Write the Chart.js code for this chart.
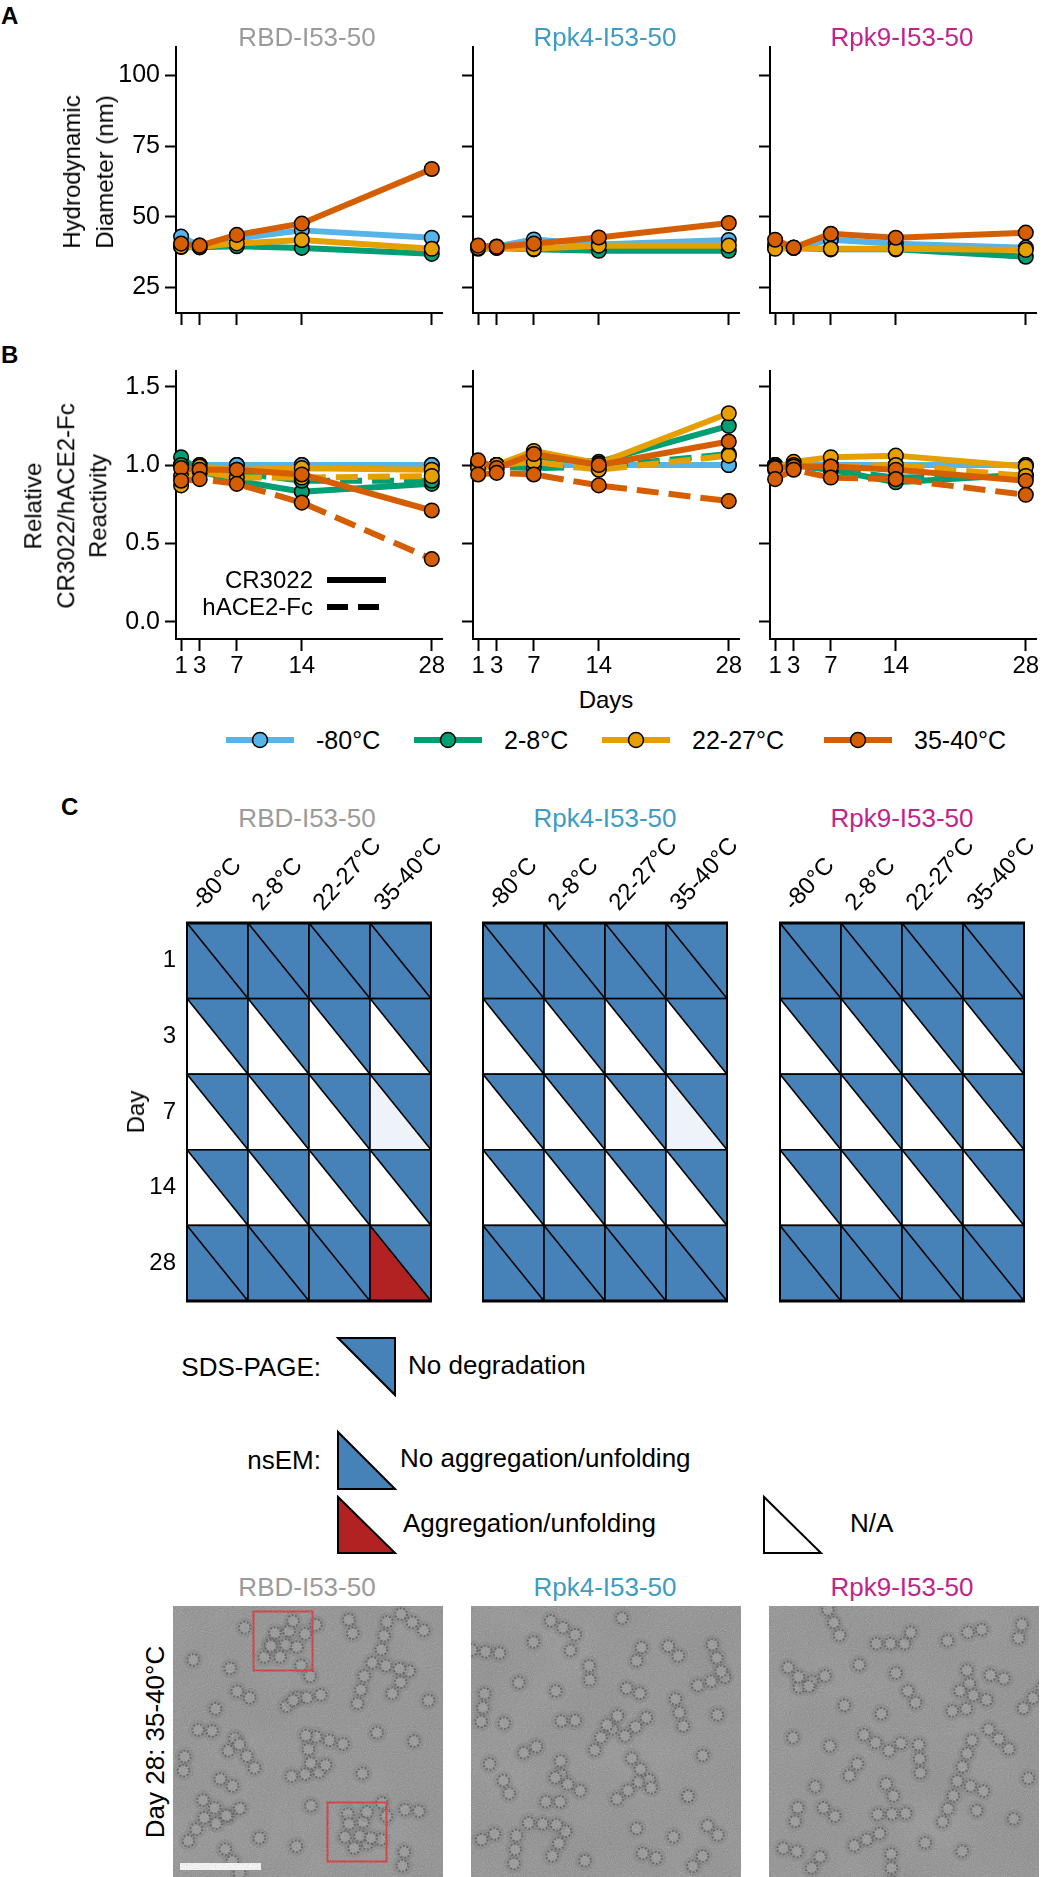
<!DOCTYPE html>
<html>
<head>
<meta charset="utf-8">
<script src="https://cdn.jsdelivr.net/npm/chart.js@4.4.1/dist/chart.umd.min.js"></script>
<style>
  body { margin: 0; background: #fff; }
  #page { position: relative; width: 1064px; height: 1877px; overflow: hidden;
          font-family: "Liberation Sans", Arial, sans-serif; color: #000; }
  #page canvas { position: absolute; }
  .t { position: absolute; white-space: nowrap; line-height: 1; }
</style>
</head>
<body>
<div id="page">
  <svg id="deco" width="1064" height="1877" style="position:absolute;left:0;top:0"></svg>
</div>
<script>
const days = [1, 3, 7, 14, 28];
const dayLabels = ["1", "3", "7", "14", "28"];
const temps = ["-80°C", "2-8°C", "22-27°C", "35-40°C"];
const tempColors = ["#56b4e9", "#009e73", "#e69f00", "#d55e00"];
const constructs = ["RBD-I53-50", "Rpk4-I53-50", "Rpk9-I53-50"];
const constructColors = ["#9a9a9a", "#3d9cc2", "#c2228b"];

// A: hydrodynamic diameter (nm); one row per temperature, one value per day
const rbdDiameter = [
  [43.0, 39.8, 42.3, 45.2, 42.6],
  [39.3, 39.2, 39.6, 39.0, 36.9],
  [39.5, 39.3, 40.6, 41.8, 38.7],
  [40.5, 39.8, 43.6, 47.6, 66.9],
];
const rpk4Diameter = [
  [39.6, 39.5, 42.0, 40.2, 41.8],
  [38.7, 39.0, 38.5, 38.0, 38.0],
  [39.0, 39.0, 38.7, 39.8, 39.8],
  [39.8, 39.4, 40.5, 42.7, 47.8],
];
const rpk9Diameter = [
  [40.2, 39.0, 41.9, 40.5, 39.1],
  [39.0, 39.0, 38.5, 38.5, 35.9],
  [38.7, 39.0, 38.7, 38.7, 38.3],
  [41.9, 39.1, 44.0, 42.6, 44.4],
];

// B: relative reactivity, CR3022 (solid) and hACE2-Fc (dashed)
const rbdCR3022 = [
  [1.0, 1.0, 1.0, 1.0, 1.0],
  [1.05, 0.96, 0.90, 0.83, 0.88],
  [0.93, 0.99, 0.97, 0.98, 0.97],
  [0.98, 0.97, 0.97, 0.94, 0.71],
];
const rbdACE2 = [
  [1.0, 1.0, 1.0, 1.0, 1.0],
  [1.0, 0.98, 0.95, 0.90, 0.90],
  [0.87, 0.96, 0.92, 0.92, 0.93],
  [0.90, 0.91, 0.88, 0.76, 0.40],
];
const rpk4CR3022 = [
  [1.0, 1.0, 1.0, 1.0, 1.0],
  [1.0, 1.0, 1.05, 1.02, 1.25],
  [1.0, 1.0, 1.09, 1.01, 1.33],
  [1.03, 0.98, 1.07, 1.0, 1.15],
];
const rpk4ACE2 = [
  [1.0, 1.0, 1.0, 1.0, 1.0],
  [0.99, 0.99, 0.98, 0.99, 1.07],
  [0.98, 1.0, 1.02, 0.97, 1.06],
  [0.94, 0.95, 0.94, 0.87, 0.77],
];
const rpk9CR3022 = [
  [1.0, 1.0, 1.0, 1.0, 1.0],
  [1.0, 1.0, 0.97, 0.89, 0.94],
  [0.98, 1.02, 1.05, 1.06, 0.99],
  [0.98, 0.99, 0.99, 0.97, 0.90],
];
const rpk9ACE2 = [
  [1.0, 1.0, 1.0, 1.0, 1.0],
  [0.99, 1.0, 0.97, 0.92, 0.93],
  [0.97, 1.0, 0.99, 1.0, 0.93],
  [0.91, 0.97, 0.92, 0.91, 0.81],
];

// C: nsEM result per day (rows) and temperature (cols); SDS-PAGE showed no degradation everywhere
const rbdEm = [
  ["ok", "ok", "ok", "ok"],
  ["na", "na", "na", "na"],
  ["na", "na", "na", "faint"],
  ["na", "na", "na", "na"],
  ["ok", "ok", "ok", "agg"],
];
const rpk4Em = [
  ["ok", "ok", "ok", "ok"],
  ["na", "na", "na", "na"],
  ["na", "na", "na", "faint"],
  ["na", "na", "na", "na"],
  ["ok", "ok", "ok", "ok"],
];
const rpk9Em = [
  ["ok", "ok", "ok", "ok"],
  ["na", "na", "na", "na"],
  ["na", "na", "na", "na"],
  ["na", "na", "na", "na"],
  ["ok", "ok", "ok", "ok"],
];

const BLUE = "#4682b8";
const emFill = { ok: BLUE, na: "#ffffff", faint: "#eef3f9", agg: "#b22222" };

Chart.defaults.font.family = '"Liberation Sans", Arial, sans-serif';
Chart.defaults.color = "#000";

const page = document.getElementById("page");
const deco = document.getElementById("deco");
const SVG_NS = "http://www.w3.org/2000/svg";

function svgEl(tag, attrs, parent = deco) {
  const e = document.createElementNS(SVG_NS, tag);
  for (const k in attrs) e.setAttribute(k, attrs[k]);
  parent.appendChild(e);
  return e;
}

function text(str, x, y, opts = {}) {
  const { size = 24, color = "#000", anchor = "middle", weight = "normal", rotate = 0, lh = null } = opts;
  const d = document.createElement("div");
  d.className = "t";
  d.innerHTML = str;
  d.style.left = x + "px";
  d.style.top = y + "px";
  d.style.fontSize = size + "px";
  d.style.color = color;
  d.style.fontWeight = weight;
  if (lh) { d.style.lineHeight = lh + "px"; d.style.textAlign = "center"; }
  const tx = anchor === "start" ? "0" : anchor === "end" ? "-100%" : "-50%";
  d.style.transformOrigin = "0 0";
  d.style.transform = rotate
    ? `rotate(${rotate}deg) translate(-50%, -50%)`
    : `translate(${tx}, -50%)`;
  page.appendChild(d);
  return d;
}

function addCanvas(left, top, w, h) {
  const c = document.createElement("canvas");
  c.width = w;
  c.height = h;
  c.style.left = left + "px";
  c.style.top = top + "px";
  c.style.width = w + "px";
  c.style.height = h + "px";
  page.appendChild(c);
  return c;
}

// ---------- line charts (A, B) ----------
const plotLefts = [176, 473, 770];
const PLOT_W = 266, AXIS_W = 70, PAD_T = 22, PAD_R = 18, XAXIS_H = 40;

function axisStyle(tickLength) {
  return {
    border: { display: true, color: "#000", width: 2 },
    grid: { display: true, drawOnChartArea: false, drawTicks: true, tickLength, tickWidth: 2, color: "#000" },
  };
}

function seriesFor(rows, dashed, orderBase) {
  return rows.map((row, i) => ({
    data: days.map((d, j) => ({ x: d, y: row[j] })),
    borderColor: tempColors[i],
    backgroundColor: tempColors[i],
    pointBackgroundColor: tempColors[i],
    pointBorderColor: "#000",
    pointBorderWidth: 1.5,
    pointRadius: 7.3,
    borderWidth: 6,
    borderDash: dashed ? [22, 10] : [],
    borderJoinStyle: "round",
    tension: 0,
    clip: false,
    order: orderBase(i),
  }));
}

function lineChart(plotLeft, plotTop, plotH, datasets, yScale, showDays, showY) {
  const canvas = addCanvas(plotLeft - AXIS_W, plotTop - PAD_T, AXIS_W + PLOT_W + PAD_R, PAD_T + plotH + XAXIS_H);
  return new Chart(canvas, {
    type: "line",
    data: { datasets },
    options: {
      responsive: false,
      animation: false,
      events: [],
      layout: { padding: { top: PAD_T, right: PAD_R, bottom: 0, left: 0 } },
      plugins: { legend: { display: false }, tooltip: { enabled: false } },
      scales: {
        x: {
          type: "linear",
          min: 0.45,
          max: 29.1,
          afterBuildTicks: (s) => { s.ticks = days.map((v) => ({ value: v })); },
          afterFit: (s) => { s.height = XAXIS_H; },
          ticks: { display: showDays, padding: 1, font: { size: 24 } },
          ...axisStyle(12),
        },
        y: {
          type: "linear",
          min: yScale.min,
          max: yScale.max,
          afterBuildTicks: (s) => { s.ticks = yScale.ticks.map((v) => ({ value: v })); },
          afterFit: (s) => { s.width = AXIS_W; },
          ticks: { display: showY, padding: 5, font: { size: 25 }, callback: yScale.format },
          ...axisStyle(11),
        },
      },
    },
  });
}

const diameterScale = { min: 16, max: 110, ticks: [25, 50, 75, 100], format: (v) => String(v) };
const reactScale = { min: -0.11, max: 1.6, ticks: [0, 0.5, 1.0, 1.5], format: (v) => v.toFixed(1) };

const diameterSets = [rbdDiameter, rpk4Diameter, rpk9Diameter];
const cr3022Sets = [rbdCR3022, rpk4CR3022, rpk9CR3022];
const ace2Sets = [rbdACE2, rpk4ACE2, rpk9ACE2];

plotLefts.forEach((left, p) => {
  lineChart(left, 47, 266, seriesFor(diameterSets[p], false, (i) => 4 - i), diameterScale, false, p === 0);
  const react = [
    ...seriesFor(cr3022Sets[p], false, (i) => (4 - i) * 2),
    ...seriesFor(ace2Sets[p], true, (i) => (4 - i) * 2 - 1),
  ];
  lineChart(left, 371, 268, react, reactScale, true, p === 0);
});

// titles, axis titles
text("A", 1, 16, { size: 24, weight: "bold", anchor: "start" });
text("B", 1, 355, { size: 24, weight: "bold", anchor: "start" });
text("C", 61, 807, { size: 24, weight: "bold", anchor: "start" });
const titleX = [307, 605, 902];
constructs.forEach((c, i) => {
  text(c, titleX[i], 37, { size: 26, color: constructColors[i] });
  text(c, titleX[i], 818, { size: 26, color: constructColors[i] });
  text(c, titleX[i], 1587, { size: 26, color: constructColors[i] });
});
text("Hydrodynamic<br>Diameter (nm)", 88, 172, { size: 24, rotate: -90, lh: 33 });
text("Relative<br>CR3022/hACE2-Fc<br>Reactivity", 66, 506, { size: 24, rotate: -90, lh: 32.5 });
text("Days", 606, 700, { size: 24 });

// antibody legend inside B (left)
text("CR3022", 313, 580, { size: 24, anchor: "end" });
text("hACE2-Fc", 313, 607, { size: 24, anchor: "end" });
svgEl("line", { x1: 327, y1: 580, x2: 386, y2: 580, stroke: "#000", "stroke-width": 6 });
svgEl("line", { x1: 327, y1: 607, x2: 386, y2: 607, stroke: "#000", "stroke-width": 6, "stroke-dasharray": "21 10" });

// temperature legend
const legendX = [226, 414, 602, 824];
temps.forEach((t, i) => {
  const x = legendX[i];
  svgEl("line", { x1: x, y1: 740, x2: x + 68, y2: 740, stroke: tempColors[i], "stroke-width": 6 });
  svgEl("circle", { cx: x + 34, cy: 740, r: 7.5, fill: tempColors[i], stroke: "#000", "stroke-width": 1.5 });
  text(t, x + 90, 740, { size: 25, anchor: "start" });
});

// ---------- C: stability grids ----------
const gridLefts = [187, 483, 780];
const GRID_TOP = 923, GRID_W = 244, GRID_H = 378;
const G_AXIS_W = 80, G_AXIS_H = 100, G_PAD_R = 80, G_PAD_B = 30;
const emSets = [rbdEm, rpk4Em, rpk9Em];

function cellPlugin() {
  return {
    id: "cells",
    afterDatasetsDraw(chart) {
      const { ctx, scales: { x, y }, chartArea: a } = chart;
      const meta = chart.getDatasetMeta(0);
      const ds = chart.data.datasets[0].data;
      const hw = Math.abs(x.getPixelForValue(1) - x.getPixelForValue(0)) / 2;
      const hh = Math.abs(y.getPixelForValue(1) - y.getPixelForValue(0)) / 2;
      ctx.save();
      meta.data.forEach((pt, k) => {
        const x0 = pt.x - hw, x1 = pt.x + hw, y0 = pt.y - hh, y1 = pt.y + hh;
        ctx.fillStyle = BLUE;
        ctx.beginPath();
        ctx.moveTo(x0, y0); ctx.lineTo(x1, y0); ctx.lineTo(x1, y1); ctx.closePath();
        ctx.fill();
        ctx.fillStyle = emFill[ds[k].em];
        ctx.beginPath();
        ctx.moveTo(x0, y0); ctx.lineTo(x0, y1); ctx.lineTo(x1, y1); ctx.closePath();
        ctx.fill();
        ctx.strokeStyle = "#000";
        ctx.lineWidth = 1.6;
        ctx.strokeRect(x0, y0, x1 - x0, y1 - y0);
        ctx.beginPath();
        ctx.moveTo(x0, y0); ctx.lineTo(x1, y1);
        ctx.stroke();
      });
      ctx.lineWidth = 3;
      ctx.beginPath();
      ctx.moveTo(a.left - 1, a.top); ctx.lineTo(a.right + 1, a.top);
      ctx.moveTo(a.left - 1, a.bottom); ctx.lineTo(a.right + 1, a.bottom);
      ctx.stroke();
      ctx.lineWidth = 2;
      ctx.strokeRect(a.left, a.top, a.right - a.left, a.bottom - a.top);
      ctx.restore();
    },
  };
}

gridLefts.forEach((left, p) => {
  const cells = [];
  dayLabels.forEach((d, r) => temps.forEach((t, c) => cells.push({ x: t, y: d, em: emSets[p][r][c] })));
  const canvas = addCanvas(left - G_AXIS_W, GRID_TOP - G_AXIS_H, G_AXIS_W + GRID_W + G_PAD_R, G_AXIS_H + GRID_H + G_PAD_B);
  new Chart(canvas, {
    type: "scatter",
    data: { datasets: [{ data: cells, pointRadius: 0, clip: false }] },
    options: {
      responsive: false,
      animation: false,
      events: [],
      layout: { padding: { top: 0, right: G_PAD_R, bottom: G_PAD_B, left: 0 } },
      plugins: { legend: { display: false }, tooltip: { enabled: false } },
      scales: {
        x: {
          type: "category",
          labels: temps,
          offset: true,
          position: "top",
          afterFit: (s) => { s.height = G_AXIS_H; },
          grid: { display: false, drawTicks: false },
          border: { display: false },
          ticks: { autoSkip: false, minRotation: 48, maxRotation: 48, padding: 6, font: { size: 24 } },
        },
        y: {
          type: "category",
          labels: dayLabels,
          offset: true,
          afterFit: (s) => { s.width = G_AXIS_W; },
          grid: { display: false, drawTicks: false },
          border: { display: false },
          ticks: { display: p === 0, autoSkip: false, padding: 11, font: { size: 24 } },
        },
      },
    },
    plugins: [cellPlugin()],
  });
});
text("Day", 136, 1112, { size: 24, rotate: -90 });

// legend for C
function tri(points, fill) {
  svgEl("polygon", { points: points.map((p) => p.join(",")).join(" "), fill, stroke: "#000", "stroke-width": 2 });
}
text("SDS-PAGE:", 321, 1367, { size: 26, anchor: "end" });
tri([[338, 1338], [395, 1338], [395, 1395]], BLUE);
text("No degradation", 408, 1365, { size: 26, anchor: "start" });
text("nsEM:", 321, 1460, { size: 26, anchor: "end" });
tri([[338, 1432], [338, 1489], [395, 1489]], emFill.ok);
text("No aggregation/unfolding", 400, 1458, { size: 26, anchor: "start" });
tri([[338, 1497], [338, 1553], [395, 1553]], emFill.agg);
text("Aggregation/unfolding", 403, 1523, { size: 26, anchor: "start" });
tri([[764, 1497], [764, 1553], [821, 1553]], emFill.na);
text("N/A", 850, 1523, { size: 26, anchor: "start" });

// ---------- negative-stain micrographs (decorative) ----------
const defs = svgEl("defs", {});
const grain = svgEl("filter", { id: "grain", x: 0, y: 0, width: "100%", height: "100%" }, defs);
svgEl("feTurbulence", { type: "fractalNoise", baseFrequency: 0.95, numOctaves: 2, seed: 5 }, grain);
svgEl("feColorMatrix", { type: "saturate", values: 0 }, grain);
const mottle = svgEl("filter", { id: "mottle", x: 0, y: 0, width: "100%", height: "100%" }, defs);
svgEl("feTurbulence", { type: "fractalNoise", baseFrequency: 0.015, numOctaves: 2, seed: 2 }, mottle);
svgEl("feColorMatrix", { type: "saturate", values: 0 }, mottle);

function particle(g, cx, cy) {
  svgEl("circle", { cx, cy, r: 10, fill: "#5e5e5e", opacity: 0.22 }, g);
  svgEl("circle", { cx, cy, r: 5.8, fill: "#979797", stroke: "#505050", "stroke-width": 2, "stroke-dasharray": "2 1.6", opacity: 0.9 }, g);
}

const emLefts = [173, 471, 769];
const EM_TOP = 1606, EM_W = 270, EM_H = 271;
emLefts.forEach((x0, p) => {
  const clip = svgEl("clipPath", { id: "em" + p }, defs);
  svgEl("rect", { x: x0, y: EM_TOP, width: EM_W, height: EM_H }, clip);
  const g = svgEl("g", { "clip-path": `url(#em${p})` });
  svgEl("rect", { x: x0, y: EM_TOP, width: EM_W, height: EM_H, fill: "#8a8a8a" }, g);
  svgEl("rect", { x: x0, y: EM_TOP, width: EM_W, height: EM_H, filter: "url(#mottle)", opacity: 0.15 }, g);
  for (let i = 0; i < 42; i++) {
    const u = (0.13 * (p + 1) + i * 0.7548776662) % 1;
    const v = (0.37 * (p + 1) + i * 0.5698402910) % 1;
    const cx = x0 + 10 + u * (EM_W - 20), cy = EM_TOP + 10 + v * (EM_H - 20);
    const n = 1 + ((i + p) % 3);
    for (let k = 0; k < n; k++) particle(g, cx + k * 14 * Math.cos(i * 1.7), cy + k * 14 * Math.sin(i * 1.7));
  }
  if (p === 0) {
    [[283, 1641], [357, 1832]].forEach(([bx, by]) => {
      [[-8, -8], [6, -10], [-12, 5], [3, 4], [14, 6], [-3, 16], [10, -20]].forEach(([dx, dy]) => particle(g, bx + dx, by + dy));
      svgEl("rect", { x: bx - 29.5, y: by - 29.5, width: 59, height: 59, fill: "none", stroke: "#d62728", "stroke-width": 2 }, g);
    });
    svgEl("rect", { x: 180, y: 1863, width: 81, height: 7, fill: "#fff" }, g);
  }
  svgEl("rect", { x: x0, y: EM_TOP, width: EM_W, height: EM_H, filter: "url(#grain)", opacity: 0.45 }, g);
});
text("Day 28: 35-40°C", 155, 1742, { size: 26, rotate: -90 });
</script>
</body>
</html>
